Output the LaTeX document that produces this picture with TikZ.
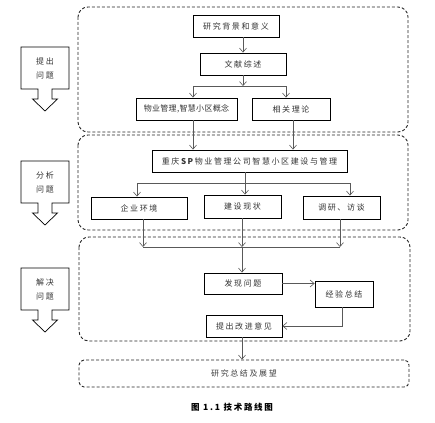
\documentclass[tikz,border=0pt]{standalone}
\usepackage{fontspec}
\setmainfont{Noto Sans CJK SC}[LetterSpace=20]
\usetikzlibrary{arrows.meta}

\begin{document}
\begin{tikzpicture}[x=1pt, y=-1pt,
  box/.style={draw, line width=0.9pt, minimum height=22pt, inner sep=0pt, font=\fontsize{8}{10}\selectfont, text=black!80},
  panel/.style={draw=black!85, dash pattern=on 3pt off 2pt, line width=0.9pt, rounded corners=10pt},
  line/.style={draw=black!65, line width=0.6pt},
  arr/.style={line, -{Straight Barb[length=4pt,width=7pt]}},
  blk/.style={draw, line width=0.7pt}]
\useasboundingbox (0,0) rectangle (435,422);
% the three stages
\draw[panel] (78,7) rectangle (408,132);
\draw[panel] (78,135) rectangle (408,230);
\draw[panel] (79,237) rectangle (410,341);
\foreach \y/\t/\n in {47/{提出\\问题}/ta, 161/{分析\\问题}/tb, 268/{解决\\问题}/tc}{
  \begin{scope}[shift={(45,\y)}]
    \draw[blk] (-24,0) -- (24,0) -- (24,42) -- (7,42) -- (7,52) -- (12.5,52) -- (0,64) -- (-12.5,52) -- (-7,52) -- (-7,42) -- (-24,42) -- cycle;
    \node[align=center, font=\fontsize{8}{14}\selectfont, text=black!80] (\n) at (0,21) {\t};
  \end{scope}
}
% boxes
\node[box, minimum width=86pt] (bg) at (236,26) {研究背景和意义};
\node[box, minimum width=86pt] (wx) at (243,64) {文献综述};
\node[box, minimum width=101pt] (gn) at (186.5,109) {\addfontfeature{LetterSpace=4}物业管理,智慧小区概念};
\node[box, minimum width=78pt] (ll) at (291,109) {相关理论};
\node[box, minimum width=195pt] (zq) at (249.5,161) {重庆\textbf{SP}物业管理公司智慧小区建设与管理};
\node[box, minimum width=96pt] (hj) at (139,208) {企业环境};
\node[box, minimum width=77pt, minimum height=23pt] (xz) at (242.5,206.5) {建设现状};
\node[box, minimum width=77pt, minimum height=23pt] (dy) at (341.5,207.5) {调研、访谈};
\node[box, minimum width=78pt, minimum height=21pt] (fx) at (243,283.5) {发现问题};
\node[box, minimum width=58pt, minimum height=26pt] (jy) at (344,294) {经验总结};
\node[box, minimum width=76pt] (gj) at (244,326) {提出改进意见};
\node[panel, minimum width=330pt, minimum height=27pt, rounded corners=5pt, font=\fontsize{8}{10}\selectfont, text=black!75] (zj) at (244,373.5) {研究总结及展望};
\node[font=\bfseries\fontsize{8.5}{10}\selectfont] (cap) at (232,407) {图 1.1 技术路线图};
% connectors
\coordinate (j1) at (243,86);
\draw[arr] (bg.south -| wx.north) -- (wx.north);
\draw[arr] (wx.south) -- (j1);
\draw[arr] (j1) -| ([xshift=6.5pt]gn.north);
\draw[arr] (j1) -| ([xshift=-5pt]ll.north);
\draw[arr] ([xshift=6.5pt]gn.south) -- ([xshift=6.5pt]gn.south |- zq.north);
\draw[arr] ([xshift=2pt]ll.south) -- ([xshift=2pt]ll.south |- zq.north);
\coordinate (j2) at (245,183);
\draw[arr] (j2 |- zq.south) -- (j2 |- xz.north);
\draw[arr] (j2) -| ([xshift=-2pt]hj.north);
\draw[arr] (j2) -| ([xshift=8.5pt]dy.north);
\coordinate (j3) at (242,247);
\draw[arr] ([xshift=4pt]hj.south) -- ([xshift=4pt]hj.south |- j3);
\draw[arr] (j3 |- xz.south) -- (j3);
\draw[arr] ([xshift=-1.5pt]dy.south) -- ([xshift=-1.5pt]dy.south |- j3);
\draw[line] ([xshift=4pt]hj.south |- j3) -- ([xshift=-1.5pt]dy.south |- j3);
\draw[arr] (j3) -- (j3 |- fx.north);
\draw[arr] (fx.east) -- (fx.east -| jy.west);
\draw[arr] ([xshift=-2pt]jy.south) |- (gj.east);
\draw[arr] ([xshift=-2pt]gj.south) -- ([xshift=-2pt]gj.south |- zj.north);
\end{tikzpicture}
\end{document}
